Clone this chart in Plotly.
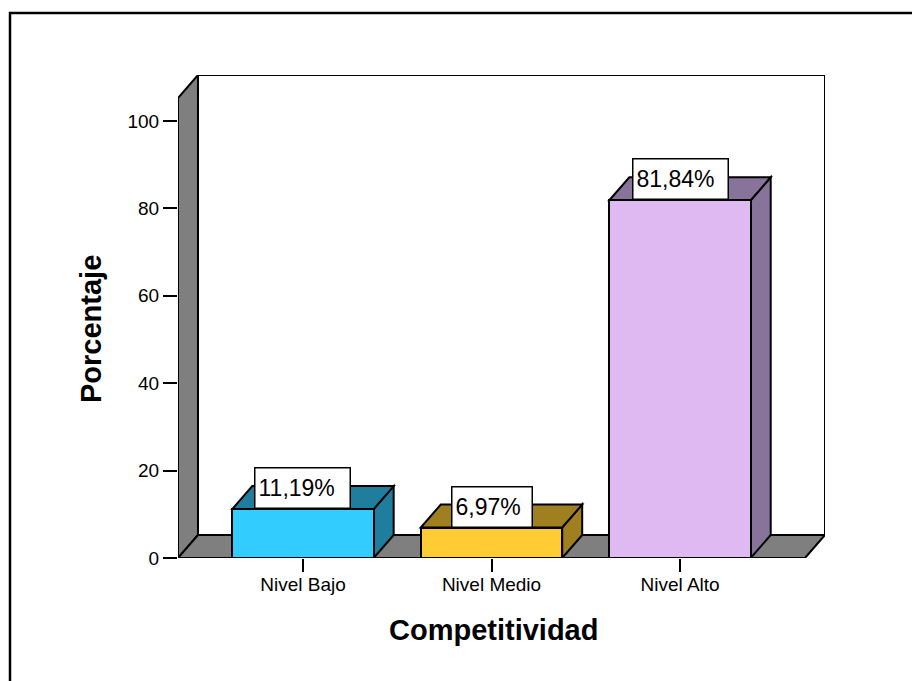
import plotly.graph_objects as go

# Data
categories = ["Nivel Bajo", "Nivel Medio", "Nivel Alto"]
percentages = [11.19, 6.97, 81.84]
y_ticks = [0, 20, 40, 60, 80, 100]

# Styling
front_colors = ["#33CCFF", "#FFCC33", "#DFB9F2"]
shade_colors = ["#1F7E9E", "#A07F20", "#88739A"]
wall_color = "#7F7F7F"
font_family = "Arial, Liberation Sans, sans-serif"

# Axis ranges and pseudo-3D depth (in data units)
X_MIN, X_MAX = -0.663, 2.769
Y_MAX = 110.5
DX, DY = 0.106, 5.26
BAR_W = 0.75

W, H = 912, 681
M_L, M_R, M_T, M_B = 178, 87, 75, 123
plot_w = W - M_L - M_R
plot_h = H - M_T - M_B

xs = list(range(len(categories)))

fig = go.Figure()

fig.add_trace(go.Bar(
    x=xs, y=percentages, width=BAR_W,
    marker=dict(color=front_colors, line=dict(color="black", width=2)),
    hoverinfo="skip", showlegend=False,
))

shapes = []
line = dict(color="black", width=2)

# Back wall
shapes.append(dict(type="rect", xref="x", yref="y", layer="below",
                   x0=X_MIN + DX, x1=X_MAX, y0=DY, y1=Y_MAX,
                   fillcolor="white", line=line))
# Left wall
shapes.append(dict(type="path", xref="x", yref="y", layer="below",
                   path=f"M {X_MIN},0 L {X_MIN},{Y_MAX - DY} L {X_MIN + DX},{Y_MAX} "
                        f"L {X_MIN + DX},{DY} Z",
                   fillcolor=wall_color, line=line))
# Floor
shapes.append(dict(type="path", xref="x", yref="y", layer="below",
                   path=f"M {X_MIN},0 L {X_MAX - DX},0 L {X_MAX},{DY} "
                        f"L {X_MIN + DX},{DY} Z",
                   fillcolor=wall_color, line=line))

# Side and top faces of each bar
for xc, v, shade in zip(xs, percentages, shade_colors):
    xl, xr = xc - BAR_W / 2, xc + BAR_W / 2
    shapes.append(dict(type="path", xref="x", yref="y", layer="below",
                       path=f"M {xr},0 L {xr},{v} L {xr + DX},{v + DY} L {xr + DX},{DY} Z",
                       fillcolor=shade, line=line))
    shapes.append(dict(type="path", xref="x", yref="y", layer="below",
                       path=f"M {xl},{v} L {xl + DX},{v + DY} L {xr + DX},{v + DY} L {xr},{v} Z",
                       fillcolor=shade, line=line))

# Outer frame around the chart
shapes.append(dict(type="rect", xref="paper", yref="paper", layer="above",
                   x0=(10 - M_L) / plot_w, x1=1.5,
                   y0=-1.0, y1=(H - M_B - 13) / plot_h,
                   fillcolor="rgba(0,0,0,0)", line=dict(color="black", width=2.5)))

annotations = []
# Value labels in white boxes
for xc, v in zip(xs, percentages):
    txt = f"{v:.2f}".replace(".", ",") + "%"
    annotations.append(dict(
        x=xc, y=v, xref="x", yref="y", xanchor="center", yanchor="bottom",
        text=txt, showarrow=False, align="left", valign="middle",
        width=15 * len(txt) - 2, height=33,
        bgcolor="white", bordercolor="black", borderwidth=1.5, borderpad=3,
        font=dict(family=font_family, size=23, color="black"),
    ))

# Axis titles
annotations.append(dict(
    x=(91 - M_L) / plot_w, y=(H - M_B - 329) / plot_h, xref="paper", yref="paper",
    xanchor="center", yanchor="middle", textangle=-90, showarrow=False,
    text="<b>Porcentaje</b>", font=dict(family=font_family, size=29, color="black"),
))
annotations.append(dict(
    x=(493.5 - M_L) / plot_w, y=(H - M_B - 630) / plot_h, xref="paper", yref="paper",
    xanchor="center", yanchor="middle", showarrow=False,
    text="<b>Competitividad</b>", font=dict(family=font_family, size=29, color="black"),
))

fig.update_layout(
    width=W, height=H,
    margin=dict(l=M_L, r=M_R, t=M_T, b=M_B, pad=0),
    paper_bgcolor="white", plot_bgcolor="white",
    shapes=shapes, annotations=annotations,
    bargap=0,
    font=dict(family=font_family, color="black"),
    xaxis=dict(range=[X_MIN, X_MAX], tickvals=xs, ticktext=categories,
               ticks="outside", ticklen=13, tickwidth=2, tickcolor="black",
               ticklabelstandoff=-4,
               showline=False, showgrid=False, zeroline=False,
               tickfont=dict(size=19, family=font_family, color="black")),
    yaxis=dict(range=[0, Y_MAX], tickvals=y_ticks,
               ticks="outside", ticklen=14, tickwidth=2, tickcolor="black",
               showline=False, showgrid=False, zeroline=False,
               tickfont=dict(size=19, family=font_family, color="black")),
)

fig.write_html("out.html")
